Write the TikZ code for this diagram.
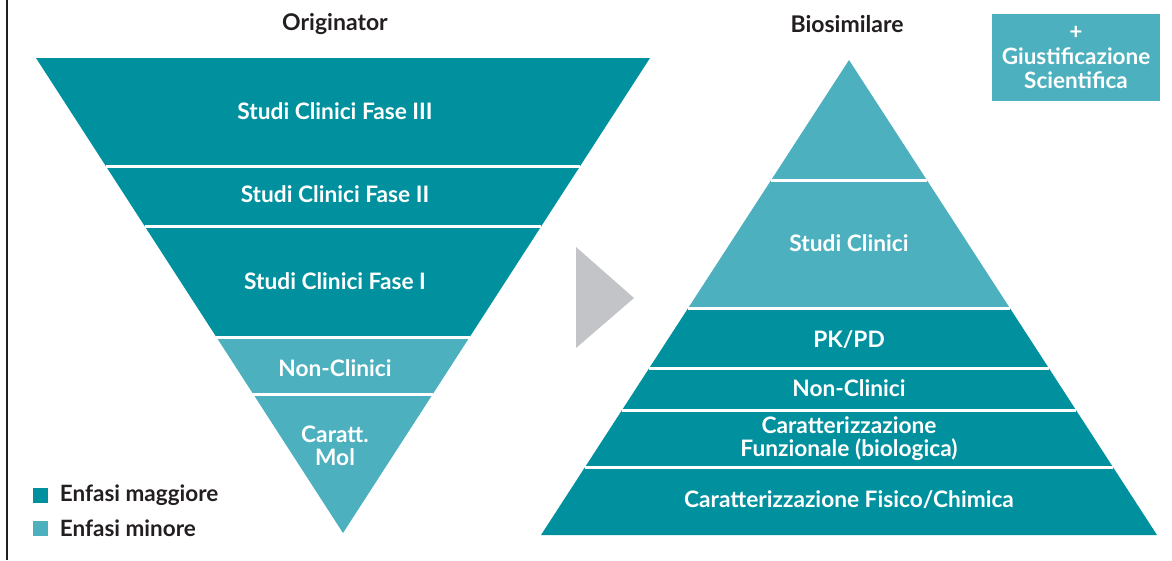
\documentclass[tikz,border=0pt]{standalone}
\usepackage{fontspec}
\setmainfont{Lato}
\usetikzlibrary{calc,positioning}
\definecolor{major}{HTML}{00909E}
\definecolor{minor}{HTML}{4DB0BE}
\definecolor{pointer}{HTML}{C3C4C8}
\definecolor{ink}{HTML}{231F20}

\begin{document}
\begin{tikzpicture}[
  x=1pt,y=-1pt,
  label/.style={text=white,align=center,inner sep=0pt,font=\bfseries\fontsize{22.7}{23}\selectfont},
  title/.style={text=ink,inner sep=0pt,font=\bfseries\fontsize{23}{24}\selectfont},
  keybox/.style={minimum size=15pt,inner sep=0pt},
  key/.style={text=ink,anchor=west,inner sep=0pt,font=\bfseries\fontsize{22.5}{24}\selectfont},
  sep/.style={white,line width=3pt}
]
\useasboundingbox (0,0) rectangle (1172,560);
\draw[ink,line width=2.4pt] (7,0) -- (7,560);

% originator: upside-down pyramid
\coordinate (oL) at (36,58);
\coordinate (oR) at (650,58);
\coordinate (oB) at (343,533);
\foreach \ya/\yb/\col in {58/167/major,167/226/major,226/337/major,337/394/minor,394/533/minor}
  \fill[\col] ($(oL)!{(\ya-58)/475}!(oB)$) -- ($(oR)!{(\ya-58)/475}!(oB)$)
    -- ($(oR)!{(\yb-58)/475}!(oB)$) -- ($(oL)!{(\yb-58)/475}!(oB)$) -- cycle;
\foreach \y in {167,226,337,394}
  \draw[sep] ($(oL)!{(\y-58)/475}!(oB)$) -- ($(oR)!{(\y-58)/475}!(oB)$);

% biosimilar: pyramid
\coordinate (bT) at (849,60);
\coordinate (bL) at (541,535);
\coordinate (bR) at (1157,535);
\foreach \ya/\yb/\col in {60/180/minor,180/308/minor,308/368/major,368/410/major,410/467/major,467/535/major}
  \fill[\col] ($(bT)!{(\ya-60)/475}!(bL)$) -- ($(bT)!{(\ya-60)/475}!(bR)$)
    -- ($(bT)!{(\yb-60)/475}!(bR)$) -- ($(bT)!{(\yb-60)/475}!(bL)$) -- cycle;
\foreach \y in {180,308,368,410,467}
  \draw[sep] ($(bT)!{(\y-60)/475}!(bL)$) -- ($(bT)!{(\y-60)/475}!(bR)$);

% grey pointer between the two
\fill[pointer] (576,247) -- (634,298) -- (576,348) -- cycle;

\node[title] (orig) at (335,24) {Originator};
\node[title] (bios) at (847,24) {Biosimilare};

\node[label] (fase3) at (335,111) {Studi Clinici Fase III};
\node[label] (fase2) at (335,194) {Studi Clinici Fase II};
\node[label] (fase1) at (335,281) {Studi Clinici Fase I};
\node[label] (nconl) at (335,368) {Non-Clinici};
\node[label] (molec) at (335,446) {Caratt.\\Mol};

\node[label] (clin)  at (849,243) {Studi Clinici};
\node[label] (pkpd)  at (849,340) {PK/PD};
\node[label] (nconr) at (849,388) {Non-Clinici};
\node[label] (funz)  at (849,439) {Caratterizzazione\\Funzionale (biologica)};
\node[label] (fisch) at (849,500) {Caratterizzazione Fisico/Chimica};

\node[label,fill=minor,minimum width=168pt,minimum height=87pt,
  font=\bfseries\fontsize{22.5}{24.5}\selectfont] (giust) at (1076,57.5)
  {+\\Giustificazione\\Scientifica};

% legend
\node[keybox,fill=major] (kmaj) at (40,495) {};
\node[keybox,fill=minor] (kmin) at (40,528) {};
\node[key,right=12pt of kmaj] {Enfasi maggiore};
\node[key,right=12pt of kmin] {Enfasi minore};
\end{tikzpicture}
\end{document}
